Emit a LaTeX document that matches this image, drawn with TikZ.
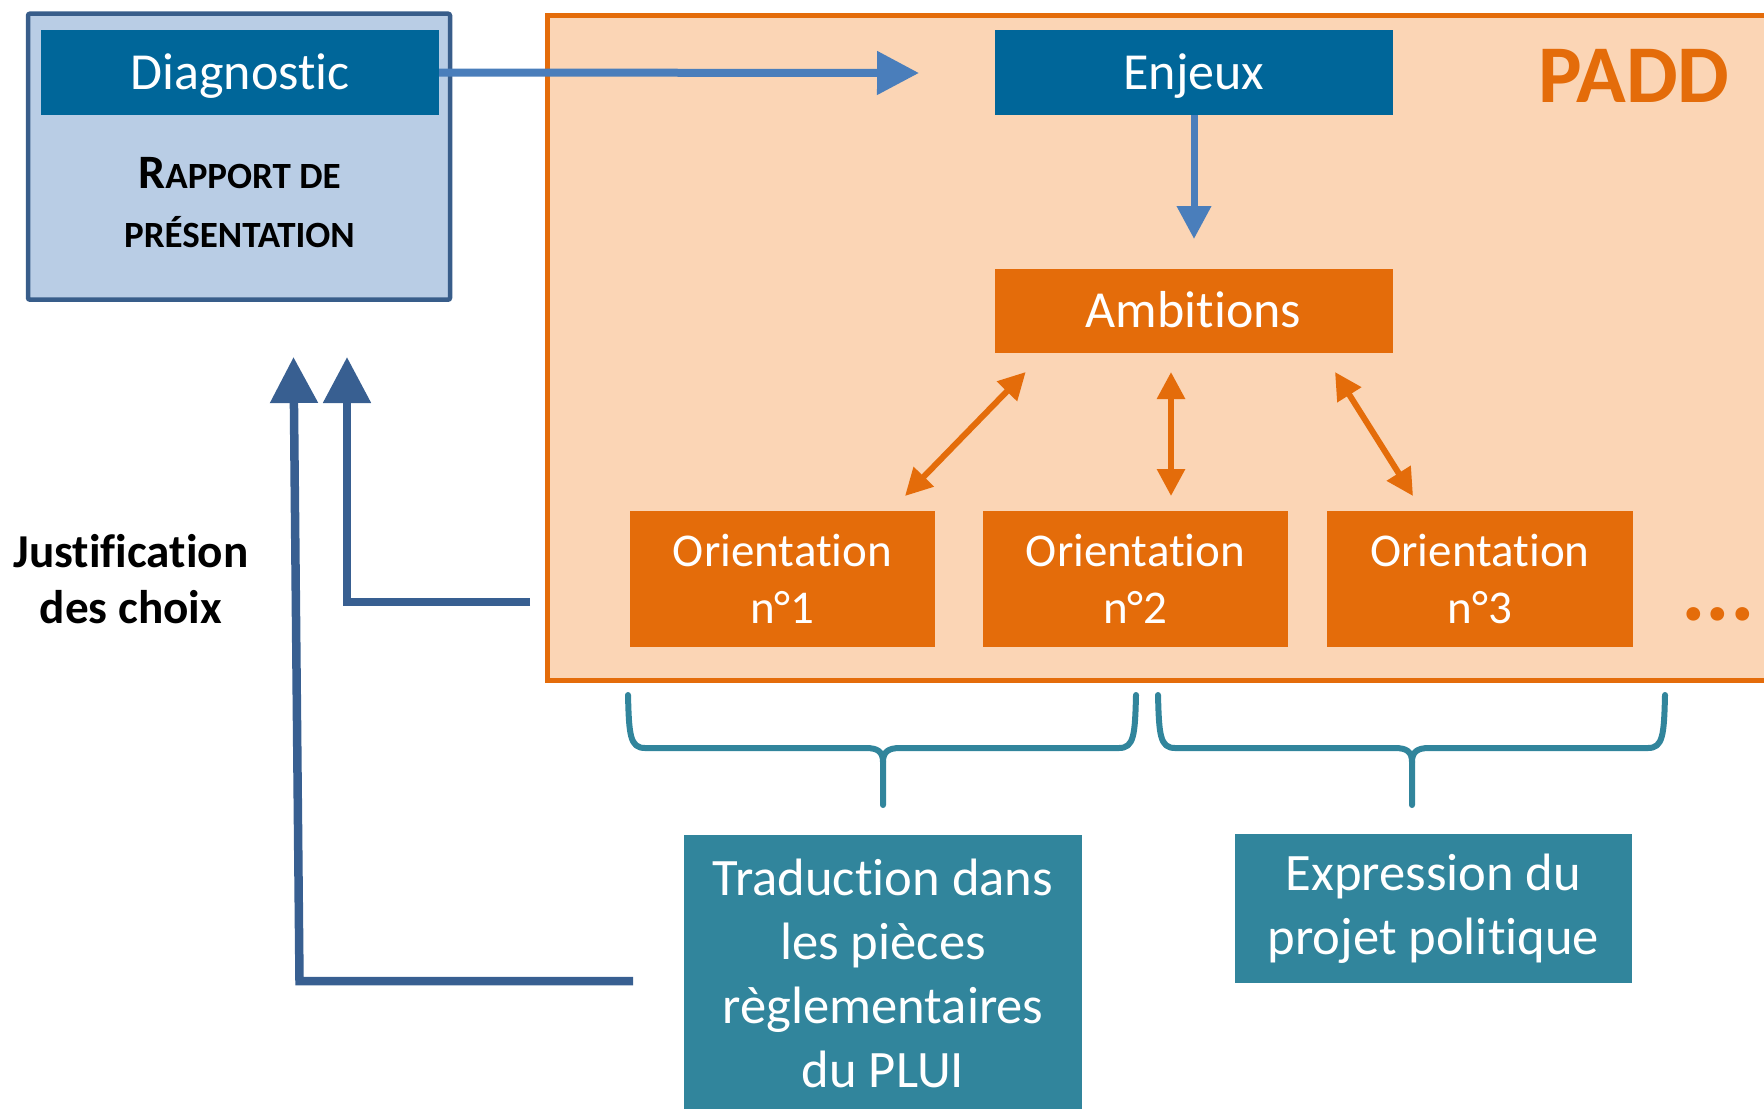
\documentclass[tikz,border=0pt]{standalone}
\usepackage{fontspec}
\setmainfont{Carlito}[Ligatures={NoCommon,NoRare,NoContextual}]
\usetikzlibrary{arrows.meta}
\definecolor{hdrblue}{RGB}{0,102,153}
\definecolor{lightblue}{RGB}{185,205,229}
\definecolor{boxborder}{RGB}{56,93,138}
\definecolor{arrblue}{RGB}{74,126,187}
\definecolor{paddfill}{RGB}{251,213,181}
\definecolor{paddorange}{RGB}{228,108,10}
\definecolor{tealc}{RGB}{49,133,156}
\definecolor{justblue}{RGB}{56,95,145}
\begin{document}
\begin{tikzpicture}[x=0.5pt,y=-0.5pt,
  fillbox/.style={draw=none, inner sep=0pt, outer sep=0pt, text=white, align=center},
  bluehdr/.style={fillbox, fill=hdrblue, minimum width=199pt, minimum height=42.5pt,
    font=\fontsize{26}{31}\selectfont, text height=16.7pt, text depth=0pt},
  orangebox/.style={fillbox, fill=paddorange},
  orient/.style={orangebox, minimum width=152.5pt, minimum height=68pt,
    font=\fontsize{23.5}{28.5}\selectfont},
  tealbox/.style={fillbox, fill=tealc, font=\fontsize{26.3}{32}\selectfont},
  dbl/.style={paddorange, line width=3pt,
    {Triangle[length=13.5pt,width=13.5pt]}-{Triangle[length=13.5pt,width=13.5pt]}},
  jarr/.style={justblue, line width=4.25pt, line join=miter,
    -{Triangle[length=23pt,width=23pt]}},
  bracec/.style={tealc, line width=3pt, line cap=round, line join=round},
]
\useasboundingbox (0,0) rectangle (1764,1108);

% Rapport de presentation box
\node[draw=boxborder, line width=2.25pt, fill=lightblue, rounded corners=1pt,
  minimum width=211pt, minimum height=143pt, inner sep=0pt] (rapportbox) at (239,156.7) {};
\node[bluehdr] (diag) at (240,72.5) {Diagnostic};
\node[inner sep=0pt, align=center, font=\bfseries\fontsize{18.5}{29.5}\selectfont] (rapport) at (239.5,202.5)
  {{\fontsize{24}{29.5}\selectfont R}APPORT DE\\PRÉSENTATION};

% PADD box
\node[draw=paddorange, line width=2.5pt, fill=paddfill, inner sep=0pt, anchor=north west,
  minimum width=627.5pt, minimum height=332.75pt] (padd) at (545,12.5) {};
\node[inner sep=0pt, anchor=base, text=paddorange, font=\bfseries\fontsize{41}{41}\selectfont]
  (paddlabel) at (1634,102) {PADD};

\node[bluehdr] (enjeux) at (1194,72.5) {Enjeux};
\node[bluehdr, fill=paddorange, minimum height=42pt] (ambitions) at (1193.5,311) {Ambitions};

\node[orient] (o1) at (782.5,579) {Orientation\\n°1};
\node[orient] (o2) at (1135.5,579) {Orientation\\n°2};
\node[orient, minimum width=153pt] (o3) at (1480,579) {Orientation\\n°3};
\node[inner sep=0pt, text=paddorange, font=\bfseries\fontsize{46}{46}\selectfont] (dots) at (1718,614) {...};

% bottom boxes
\node[tealbox, minimum width=199pt, minimum height=138.5pt] (trad) at (883,973.5)
  {Traduction dans\\les pièces\\règlementaires\\du PLUI};
\node[tealbox, minimum width=198.5pt, minimum height=74.5pt] (expr) at (1433.5,908.5)
  {\rule{0pt}{0pt}\raisebox{-2pt}{Expression du}\\\raisebox{-2pt}{projet politique}};

% Justification text
\node[inner sep=0pt, align=center, font=\bfseries\fontsize{23.6}{28}\selectfont] (justif) at (131,579)
  {Justification\\des choix};

% connectors
\coordinate (enjeuxin) at (919,73);
\draw[arrblue, line width=4pt, -{Triangle[length=21pt,width=21pt]}] (diag.east) -- (enjeuxin);
\coordinate (ambin) at (1194,239);
\draw[arrblue, line width=3.5pt, -{Triangle[length=16.5pt,width=16.5pt]}] (enjeux.south) -- (ambin);

\coordinate (a1s) at (905,496);
\coordinate (a1e) at (1025.7,372);
\coordinate (a2s) at (1171,496);
\coordinate (a2e) at (1171,372);
\coordinate (a3s) at (1413,496);
\coordinate (a3e) at (1335,372);
\draw[dbl] (a1s) -- (a1e);
\draw[dbl] (a2s) -- (a2e);
\draw[dbl] (a3s) -- (a3e);

\coordinate (j1s) at (530,602);
\coordinate (j1c) at (347,602);
\coordinate (j1e) at (347,357);
\draw[jarr] (j1s) -- (j1c) -- (j1e);
\coordinate (j2s) at (633,981);
\coordinate (j2c) at (299.5,981);
\coordinate (j2e) at (293.5,357);
\draw[jarr] (j2s) -- (j2c) -- (j2e);

% braces
\draw[bracec] (628,695) .. controls (629,735) and (630,748) .. (645,748) -- (866,748)
  .. controls (878,748) and (883,752) .. (883,762) -- (883,805);
\draw[bracec] (1136,695) .. controls (1135,735) and (1134,748) .. (1119,748) -- (900,748)
  .. controls (888,748) and (883,752) .. (883,762);
\draw[bracec] (1158,695) .. controls (1159,735) and (1160,748) .. (1175,748) -- (1395,748)
  .. controls (1407,748) and (1412,752) .. (1412,762) -- (1412,805);
\draw[bracec] (1665,695) .. controls (1664,735) and (1663,748) .. (1648,748) -- (1429,748)
  .. controls (1417,748) and (1412,752) .. (1412,762);
\end{tikzpicture}
\end{document}
